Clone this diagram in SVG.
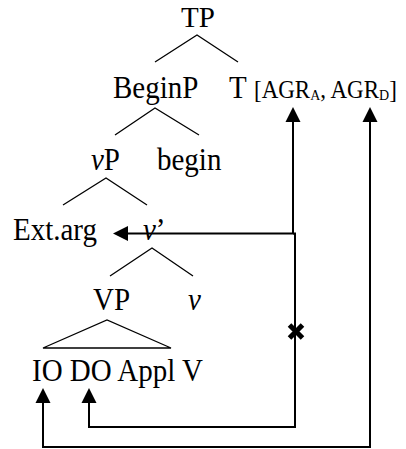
<svg xmlns="http://www.w3.org/2000/svg" width="406" height="449" viewBox="0 0 406 449">
<style>
text{font-family:"Liberation Serif","Times New Roman",serif;font-size:29px;fill:#000}
.sm{font-size:23px}
.sub{font-size:14px}
.it{font-style:italic}
.tree{stroke:#000;stroke-width:1.3;fill:none}
.conn{stroke:#000;stroke-width:2;fill:none;marker-end:url(#ah)}
.both{marker-start:url(#ah)}
</style>
<defs>
<marker id="ah" markerUnits="userSpaceOnUse" markerWidth="16" markerHeight="15" refX="0" refY="7.5" orient="auto-start-reverse" overflow="visible">
<path d="M0,0 L15,7.5 L0,15 z" fill="#000"/>
</marker>
</defs>
<rect width="406" height="449" fill="#fff"/>
<g id="TP"><text x="198" y="26.5" text-anchor="middle">TP</text></g>
<g id="BeginP"><text transform="translate(113,98) scale(1,1.07)">BeginP</text></g>
<g id="T"><text transform="translate(229,98) scale(1,1.07)">T</text><text class="sm" transform="translate(254,98) scale(1,1.07)">[AGR<tspan class="sub" dy="2">A</tspan><tspan dy="-2">, AGR</tspan><tspan class="sub" dy="2">D</tspan><tspan dy="-2">]</tspan></text></g>
<g id="vP"><text transform="translate(91,170) scale(1,1.07)"><tspan class="it">v</tspan>P</text></g>
<g id="begin"><text transform="translate(157,170) scale(1,1.07)">begin</text></g>
<g id="Extarg"><text transform="translate(13,240) scale(1,1.07)">Ext.arg</text></g>
<g id="vbar"><text transform="translate(143,240) scale(1,1.07)"><tspan class="it">v</tspan>’</text></g>
<g id="VP"><text transform="translate(93,310) scale(1,1.07)">VP</text></g>
<g id="v"><text class="it" transform="translate(188,310) scale(1,1.07)">v</text></g>
<g id="IODO"><text transform="translate(32,381) scale(1,1.07)">IO DO Appl V</text></g>
<g id="tree-lines">
<path class="tree" d="M155,62 L197,35 L238,62"/>
<path class="tree" d="M115,135 L155,108 L199,135"/>
<path class="tree" d="M63,205 L106,178 L147,205"/>
<path class="tree" d="M110,276 L152,248 L193,276"/>
<path class="tree" d="M43,348 L107,320 L171,348 Z"/>
</g>
<g id="connectors">
<path class="conn both" d="M128,233.5 H293 V122"/>
<path class="conn" d="M293,233.5 H295 V427 H89 V403"/>
<path class="conn both" d="M43,403 V447 H370 V122"/>
<path d="M289.5,325 L302.5,338 M302.5,325 L289.5,338" stroke="#000" stroke-width="5"/>
</g>
</svg>
